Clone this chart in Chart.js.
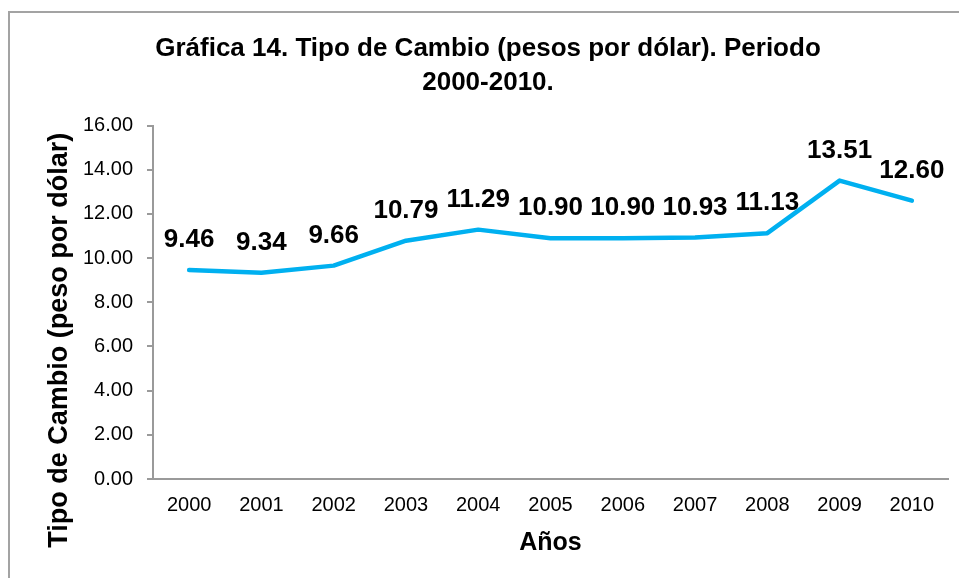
<!DOCTYPE html>
<html>
<head>
<meta charset="utf-8">
<script src="https://cdn.jsdelivr.net/npm/chart.js@4"></script>
<style>
    html, body { margin: 0; padding: 0; background: #fff; overflow: hidden; }
    #wrap { position: absolute; left: 0; top: 0; width: 959px; height: 578px; }
    #frame { position: absolute; left: 8px; top: 11px; width: 1000px; height: 1000px; border: 2px solid #a3a3a3; pointer-events: none; }
</style>
</head>
<body>
<div id="frame"></div>
<div id="wrap"><canvas id="chart" width="959" height="578"></canvas></div>
<script>
const years = ['2000', '2001', '2002', '2003', '2004', '2005', '2006', '2007', '2008', '2009', '2010'];
const tipoCambio = [9.46, 9.34, 9.66, 10.79, 11.29, 10.90, 10.90, 10.93, 11.13, 13.51, 12.60];
const chartTitle = ['Gráfica 14. Tipo de Cambio (pesos por dólar). Periodo', '2000-2010.'];
const yTitle = 'Tipo de Cambio (peso por dólar)';
const xTitle = 'Años';

const FONT = "'Liberation Sans', Arial, sans-serif";

// value labels above each point
const valueLabels = {
    id: 'valueLabels',
    afterDatasetsDraw(chart) {
        const ctx = chart.ctx;
        const meta = chart.getDatasetMeta(0);
        ctx.save();
        ctx.font = 'bold 26px ' + FONT;
        ctx.fillStyle = '#000';
        ctx.textAlign = 'center';
        ctx.textBaseline = 'alphabetic';
        meta.data.forEach((pt, i) => {
            ctx.fillText(tipoCambio[i].toFixed(2), pt.x, pt.y - 23);
        });
        ctx.restore();
    }
};

// y title sits a bit below the middle of the axis, like the original
const yAxisTitle = {
    id: 'yAxisTitle',
    afterDraw(chart) {
        const ctx = chart.ctx;
        const area = chart.chartArea;
        ctx.save();
        ctx.font = 'bold 27px ' + FONT;
        ctx.fillStyle = '#000';
        ctx.textAlign = 'center';
        ctx.textBaseline = 'middle';
        ctx.translate(60, (area.top + area.bottom) / 2 + 38);
        ctx.rotate(-Math.PI / 2);
        ctx.fillText(yTitle, 0, 0);
        ctx.restore();
    }
};

new Chart(document.getElementById('chart'), {
    type: 'line',
    data: {
        labels: years,
        datasets: [{
            data: tipoCambio,
            borderColor: '#00b0f0',
            backgroundColor: '#00b0f0',
            borderWidth: 4.5,
            pointRadius: 0,
            tension: 0,
            borderCapStyle: 'round',
            borderJoinStyle: 'round'
        }]
    },
    options: {
        responsive: false,
        animation: false,
        layout: { padding: { left: 28, right: 11, top: 0, bottom: 0 } },
        plugins: {
            legend: { display: false },
            tooltip: { enabled: false },
            title: {
                display: true,
                text: chartTitle,
                color: '#000',
                font: { family: FONT, size: 26, weight: 'bold', lineHeight: 1.3 },
                padding: { top: 32, bottom: 26 }
            }
        },
        scales: {
            x: {
                offset: true,
                grid: { display: false, drawTicks: false },
                border: { display: true, color: '#9a9a9a', width: 2 },
                ticks: { color: '#000', font: { family: FONT, size: 20 }, padding: 14, maxRotation: 0 },
                title: {
                    display: true, text: xTitle, color: '#000',
                    font: { family: FONT, size: 25, weight: 'bold' },
                    padding: { top: 0, bottom: 20 }
                },
                afterFit(scale) { scale.height = 99; }
            },
            y: {
                min: 0,
                max: 16,
                grid: { drawOnChartArea: false, drawTicks: true, tickLength: 6, color: '#9a9a9a', lineWidth: 2 },
                border: { display: true, color: '#9a9a9a', width: 2 },
                ticks: {
                    stepSize: 2, color: '#000', padding: 14,
                    font: { family: FONT, size: 20 },
                    callback: v => v.toFixed(2)
                },
                afterFit(scale) { scale.width = 125; }
            }
        }
    },
    plugins: [valueLabels, yAxisTitle]
});
</script>
</body>
</html>
